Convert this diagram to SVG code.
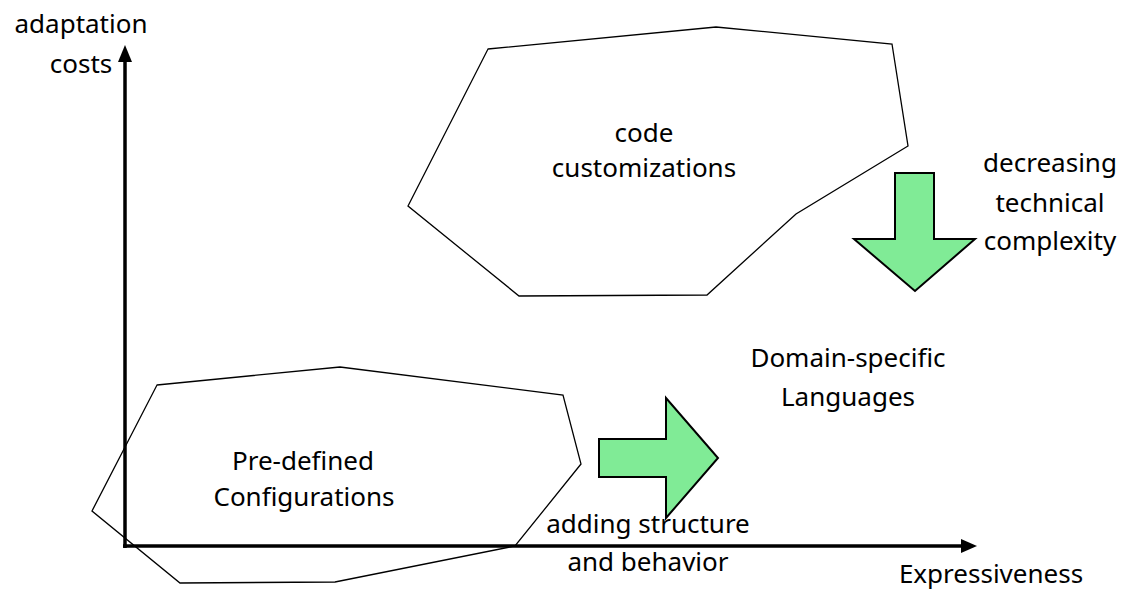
<svg xmlns="http://www.w3.org/2000/svg" width="1130" height="590" viewBox="0 0 1130 590">
<style>
text{font-family:"Noto Sans","Liberation Sans",sans-serif;font-size:26px;fill:#000;text-anchor:middle}
.region{fill:none;stroke:#000;stroke-width:1.3}
.axis{stroke:#000;stroke-width:3.5;fill:none}
.big{fill:#80eb96;stroke:#000;stroke-width:2;stroke-linejoin:miter}
</style>
<rect width="1130" height="590" fill="#fff"/>
<g id="code-customizations">
<polygon class="region" points="488,49 716,27 892,44 908,146 796,214 707,295 519,296 408,206"/>
<text x="644" y="142">code</text>
<text x="644" y="177">customizations</text>
</g>
<g id="predefined-configurations">
<polygon class="region" points="157,385 340,367 563,395 581,464 515,546 335,582 180,583 92,511"/>
<text x="303" y="470">Pre-defined</text>
<text x="304" y="506">Configurations</text>
</g>
<g id="axes">
<line class="axis" x1="125" y1="548" x2="125" y2="60"/>
<polygon points="125,45 118,62 132,62" fill="#000"/>
<line class="axis" x1="123" y1="546" x2="963" y2="546"/>
<polygon points="977,546 961,539 961,553" fill="#000"/>
<text x="81" y="33">adaptation</text>
<text x="81" y="73">costs</text>
<text x="991" y="583">Expressiveness</text>
</g>
<g id="dsl">
<text x="848" y="367">Domain-specific</text>
<text x="848" y="406">Languages</text>
</g>
<g id="connectors">
<g id="arrow-structure">
<polygon class="big" points="599,439 666,439 666,398 718,458 666,518 666,477 599,477"/>
<text x="648" y="533">adding structure</text>
<text x="648" y="571">and behavior</text>
</g>
<g id="arrow-complexity">
<polygon class="big" points="895,173 934,173 934,239 975,239 915,291 854,239 895,239"/>
<text x="1050" y="172">decreasing</text>
<text x="1050" y="212">technical</text>
<text x="1050" y="250">complexity</text>
</g>
</g>
</svg>
